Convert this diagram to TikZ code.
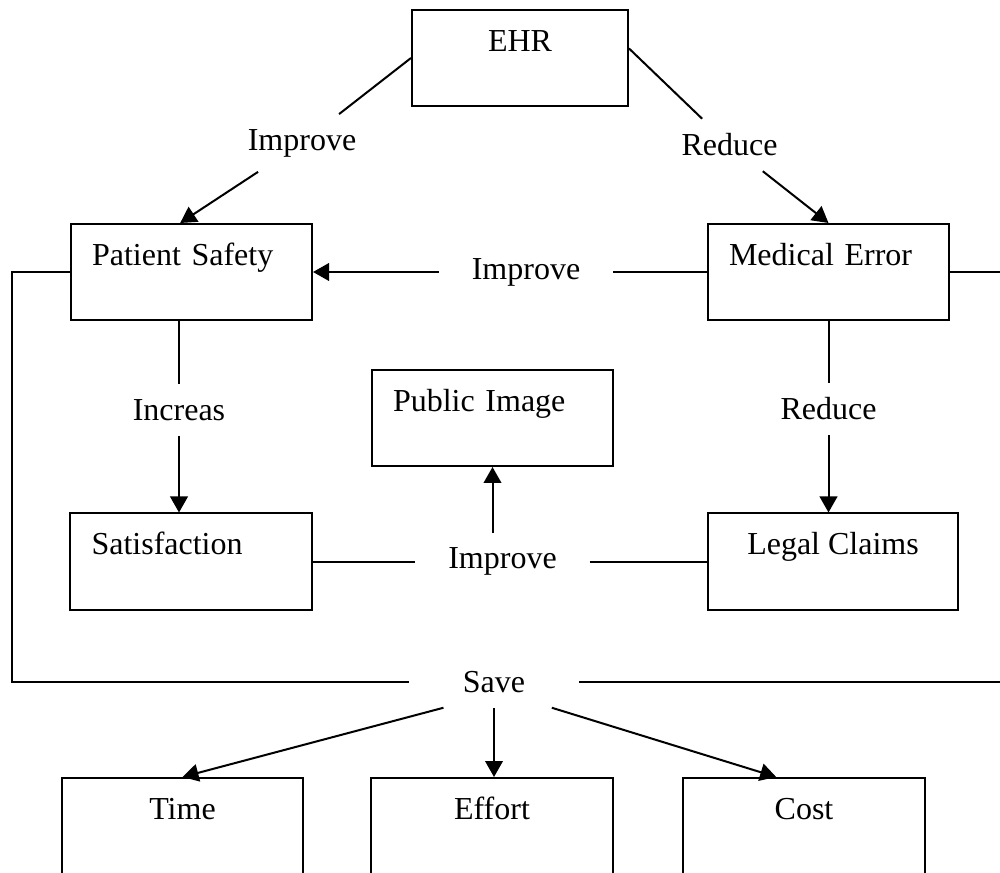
\documentclass[tikz,border=0pt]{standalone}
\usepackage{fontspec}
\setmainfont{Liberation Serif}
\usetikzlibrary{arrows.meta}
\begin{document}
\begin{tikzpicture}[x=0.375pt,y=-0.375pt,line width=0.75pt,
    every node/.style={font=\fontsize{12}{14}\selectfont},
    box/.style={draw,rectangle,inner ysep=0pt,inner xsep=0pt,minimum width=90.4pt,
        text height=15.4pt,text depth=20.6pt},
    lbox/.style={box,inner xsep=7.9pt,text width=74.6pt,align=left},
    bbox/.style={box,text depth=26.6pt},
    lbl/.style={inner xsep=12pt,inner ysep=5.25pt},
    arr/.style={-{Triangle[length=6pt,width=6.6pt]}}]
    \path[use as bounding box,clip] (0,0) rectangle (1000,873);
    % boxes
    \node[box,minimum width=81pt,text height=15.75pt,text depth=20.25pt] (ehr) at (520,58) {EHR};
    \node[lbox] (ps) at (191.5,272) {Patient Safety};
    \node[lbox] (me) at (828.5,272) {Medical Error};
    \node[lbox] (pi) at (492.5,418) {Public Image};
    \node[lbox] (sat) at (191,561.5) {Satisfaction};
    \node[box,minimum width=93.75pt] (lc) at (833,561.5) {Legal Claims};
    \node[bbox] (time) at (182.5,834) {Time};
    \node[bbox] (effort) at (492,834) {Effort};
    \node[bbox] (cost) at (804,834) {Cost};
    % labels on the links
    \node[lbl] (impA) at (302,143) {Improve};
    \node[lbl] (redA) at (729.5,145) {Reduce};
    \node[lbl] (impB) at (526,272) {Improve};
    \node[lbl] (incr) at (179,410) {Increas};
    \node[lbl] (redB) at (828.5,409) {Reduce};
    \node[lbl] (impC) at (502.5,561.5) {Improve};
    \node[lbl,inner xsep=20pt] (save) at (494,682) {Save};
    \coordinate (lcor) at (12,682);
    \coordinate (rend) at (1000,682);
    \coordinate (rtop) at (1000,272);
    % links
    \draw (ehr.west) -- (impA);
    \draw[arr] (impA) -- (ps.103);
    \draw (ehr.5) -- (redA);
    \draw[arr] (redA) -- (me.north);
    \draw (me.west) -- (impB);
    \draw[arr] (impB) -- (ps.east);
    \draw (ps.south -| incr) -- (incr);
    \draw[arr] (incr) -- (incr |- sat.north);
    \draw (me.south) -- (redB);
    \draw[arr] (redB) -- (redB |- lc.north);
    \draw (sat.east) -- (impC);
    \draw (impC) -- (lc.west);
    \draw[arr] (pi.south |- impC.north) -- (pi.south);
    \draw (ps.west) -| (lcor) -- (save);
    \draw (save) -- (rend);
    \draw (me.east) -- (rtop);
    \draw[arr] (save.207) -- (time.north);
    \draw[arr] (save.south) -- (save.south |- effort.north);
    \draw[arr] (save.336) -- (cost.116);
\end{tikzpicture}
\end{document}
